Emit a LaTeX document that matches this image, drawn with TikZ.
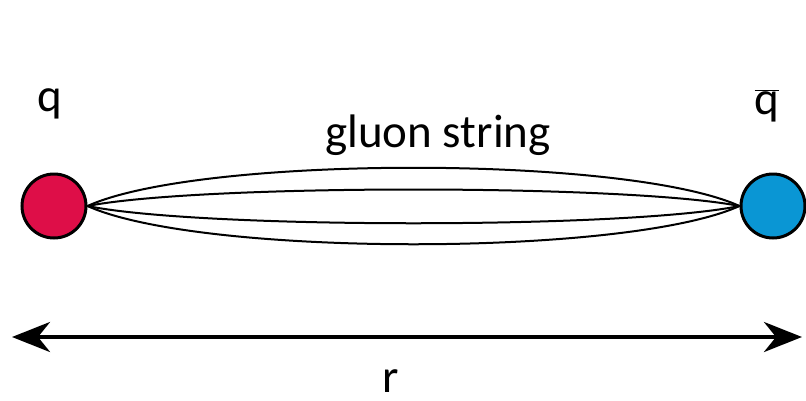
\documentclass[tikz,border=0pt]{standalone}
\usepackage{fontspec}
\setmainfont{Carlito}
\usetikzlibrary{arrows.meta}
\definecolor{quarkred}{RGB}{222,14,72}
\definecolor{antiblue}{RGB}{10,150,212}
\tikzstyle{quarkball} = [
    circle,
    minimum size=64pt,
    inner sep=0pt,
    line width=3pt,
    draw=black
]
\tikzstyle{bigtext} = [
    anchor=base,
    inner sep=0pt,
    font=\fontsize{47}{52}\selectfont
]
\tikzstyle{strand} = [line width=2pt, black]
\tikzstyle{spanarrow} = [line width=4pt, {Stealth[length=38pt,width=30pt,inset=12pt]}-{Stealth[length=38pt,width=30pt,inset=12pt]}]

\begin{document}
\begin{tikzpicture}[x=1pt, y=-1pt]

\useasboundingbox (0,0) rectangle (806,400);

\node (q) [quarkball, fill=quarkred] at (54,206) {};

\node (qbar) [quarkball, fill=antiblue] at (773,206) {};

\node (qlabel) [bigtext] at (50,111) {q};

\node (qbarlabel) [bigtext] at (767,114) {$\overline{\mbox{q}\vphantom{l}}$};

\node (gluon) [bigtext] at (438,147) {gluon string};

\draw [strand] (q.east) .. controls (200,155) and (627,155) .. (qbar.west);
\draw [strand] (q.east) .. controls (200,184) and (627,184) .. (qbar.west);
\draw [strand] (q.east) .. controls (200,229) and (627,229) .. (qbar.west);
\draw [strand] (q.east) .. controls (200,257) and (627,257) .. (qbar.west);

\coordinate (rleft) at (12,337);
\coordinate (rright) at (802,337);
\draw [spanarrow] (rleft) -- (rright);

\node (rlabel) [bigtext] at (391,392) {r};

\end{tikzpicture}
\end{document}
